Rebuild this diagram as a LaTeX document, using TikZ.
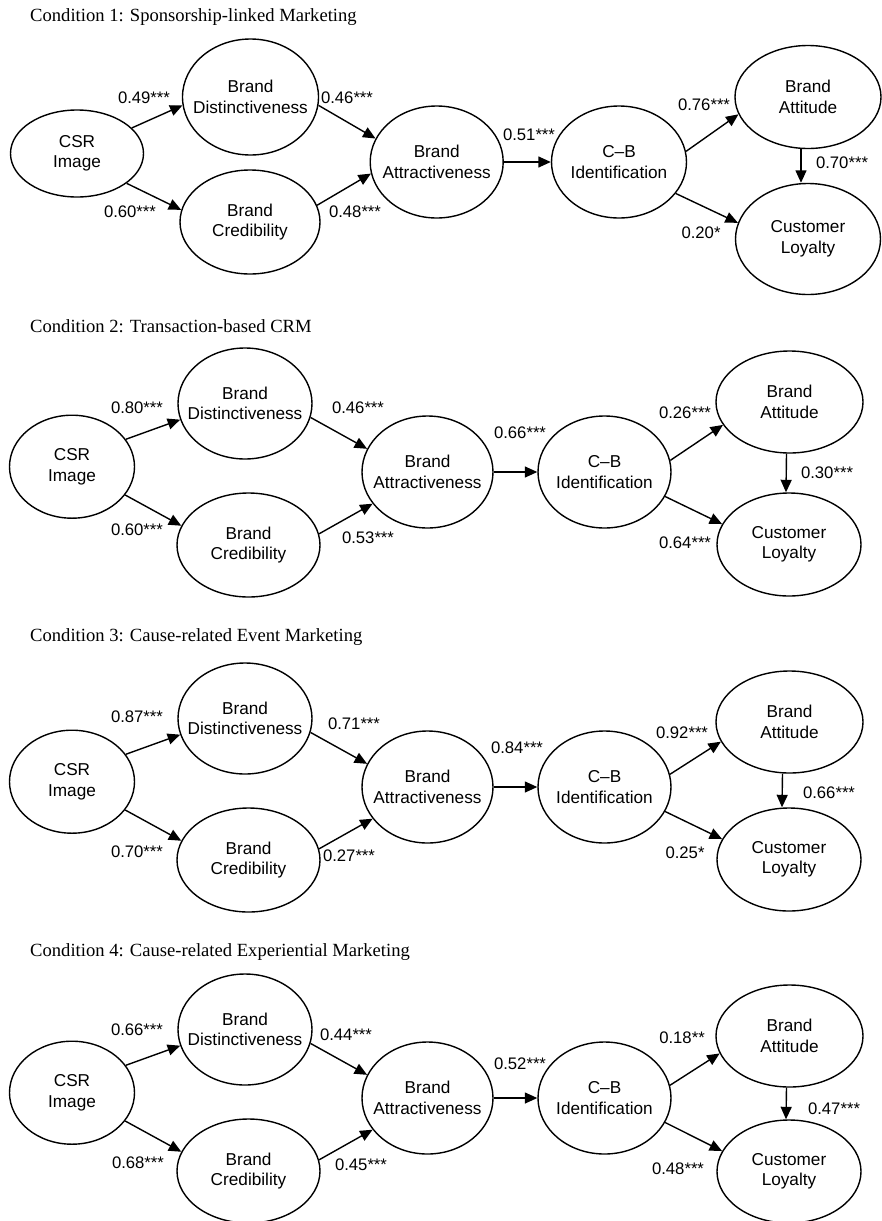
\documentclass[tikz,border=0pt]{standalone}
\usepackage{fontspec}
\setmainfont{Liberation Serif}
\newfontfamily\sansfam{Liberation Sans}
\usetikzlibrary{arrows.meta,shapes.geometric}
\tikzset{
  ell/.style 2 args={draw, ellipse, line width=1.4pt, inner xsep=-70pt, inner ysep=-35pt,
    minimum width=#1pt, minimum height=#2pt, align=center,
    font=\sansfam\fontsize{17.2}{20.5}\selectfont},
  arr/.style={-{Triangle[length=12.5pt,width=11pt]}, line width=1.4pt},
  coef/.style={font=\sansfam\fontsize{16.7}{18}\selectfont, inner sep=0pt},
  ttl/.style={font=\fontsize{18.6}{20}\selectfont, anchor=base west, inner sep=0pt},
}
\begin{document}
\begin{tikzpicture}[x=1pt,y=-1pt]
\useasboundingbox (0,0) rectangle (882,1221);

% ---------------- Panel 1 ----------------
\node[ttl] (t1) at (30,21.7) {Condition 1: Sponsorship-linked Marketing};
\node[ell={133}{87}]  (csr1)  at (77,153.5) {CSR\\Image};
\node[ell={136}{116}] (dist1) at (250.5,97) {Brand\\Distinctiveness};
\node[ell={140}{104}] (cred1) at (250,222) {Brand\\Credibility};
\node[ell={133}{112}] (attr1) at (436.7,162) {Brand\\Attractiveness};
\node[ell={135}{112}] (cb1)   at (619,162) {C–B\\Identification};
\node[ell={146}{103}] (att1)  at (808,97) {Brand\\Attitude};
\node[ell={145}{111}] (loy1)  at (808,239) {Customer\\Loyalty};
\draw[arr] (csr1.25.5) -- (dist1.187.6);
\draw[arr] (csr1.-31.3) -- (cred1.170.8);
\draw[arr] (dist1.-7.9) -- (attr1.159.5);
\draw[arr] (cred1.14.6) -- (attr1.190.4);
\draw[arr] (attr1) -- (cb1);
\draw[arr] (cb1.9.8) -- (att1.194.8);
\draw[arr] (cb1.-29.1) -- (loy1.167.4);
\draw[arr] ([xshift=-7pt]att1.south) -- ([xshift=-7pt]loy1.north);
\node[coef] (l11) at (144,98) {0.49***};
\node[coef] (l12) at (130,212) {0.60***};
\node[coef] (l13) at (347,98) {0.46***};
\node[coef] (l14) at (355,212) {0.48***};
\node[coef] (l15) at (529,135) {0.51***};
\node[coef] (l16) at (704,105) {0.76***};
\node[coef] (l17) at (701,233) {0.20*};
\node[coef] (l18) at (842,163) {0.70***};

% ---------------- Panel 2 ----------------
\node[ttl] (t2) at (30,332.3) {Condition 2: Transaction-based CRM};
\node[ell={125}{103}] (csr2)  at (72,466.7) {CSR\\Image};
\node[ell={134}{111}] (dist2) at (245,403.5) {Brand\\Distinctiveness};
\node[ell={143}{104}] (cred2) at (248.5,545) {Brand\\Credibility};
\node[ell={131}{112}] (attr2) at (427.5,472) {Brand\\Attractiveness};
\node[ell={133}{112}] (cb2)   at (604.5,472) {C–B\\Identification};
\node[ell={147}{102}] (att2)  at (789.5,402) {Brand\\Attitude};
\node[ell={144}{103}] (loy2)  at (789,544.5) {Customer\\Loyalty};
\draw[arr] (csr2.27.8) -- (dist2.194);
\draw[arr] (csr2.-28.7) -- (cred2.164);
\draw[arr] (dist2.-12) -- (attr2.159);
\draw[arr] (cred2.9.5) -- (attr2.210);
\draw[arr] (attr2) -- (cb2);
\draw[arr] (cb2.10) -- (att2.199);
\draw[arr] (cb2.-22) -- (loy2.163);
\draw[arr] ([xshift=-3pt]att2.south) -- ([xshift=-3pt]loy2.north);
\node[coef] (l21) at (137,408) {0.80***};
\node[coef] (l22) at (137,530) {0.60***};
\node[coef] (l23) at (358,408) {0.46***};
\node[coef] (l24) at (368,538) {0.53***};
\node[coef] (l25) at (520,433) {0.66***};
\node[coef] (l26) at (685,413) {0.26***};
\node[coef] (l27) at (685,543) {0.64***};
\node[coef] (l28) at (827,473) {0.30***};

% ---------------- Panel 3 ----------------
\node[ttl] (t3) at (30,641) {Condition 3: Cause-related Event Marketing};
\node[ell={125}{103}] (csr3)  at (72,781.7) {CSR\\Image};
\node[ell={134}{111}] (dist3) at (245,718.5) {Brand\\Distinctiveness};
\node[ell={143}{104}] (cred3) at (248.5,860) {Brand\\Credibility};
\node[ell={131}{112}] (attr3) at (427.5,787) {Brand\\Attractiveness};
\node[ell={133}{112}] (cb3)   at (604.5,787) {C–B\\Identification};
\node[ell={147}{102}] (att3)  at (789.5,722) {Brand\\Attitude};
\node[ell={144}{103}] (loy3)  at (789,859.5) {Customer\\Loyalty};
\draw[arr] (csr3.27.8) -- (dist3.194);
\draw[arr] (csr3.-28.7) -- (cred3.164);
\draw[arr] (dist3.-12) -- (attr3.159);
\draw[arr] (cred3.9.5) -- (attr3.210);
\draw[arr] (attr3) -- (cb3);
\draw[arr] (cb3.11.7) -- (att3.196.4);
\draw[arr] (cb3.-22) -- (loy3.163);
\draw[arr] ([xshift=-7pt]att3.south) -- ([xshift=-7pt]loy3.north);
\node[coef] (l31) at (137,717) {0.87***};
\node[coef] (l32) at (137,852) {0.70***};
\node[coef] (l33) at (354,724) {0.71***};
\node[coef] (l34) at (349,856) {0.27***};
\node[coef] (l35) at (517,748) {0.84***};
\node[coef] (l36) at (682,733) {0.92***};
\node[coef] (l37) at (685,853) {0.25*};
\node[coef] (l38) at (829,793) {0.66***};

% ---------------- Panel 4 ----------------
\node[ttl] (t4) at (30,956) {Condition 4: Cause-related Experiential Marketing};
\node[ell={125}{103}] (csr4)  at (72,1092.7) {CSR\\Image};
\node[ell={134}{111}] (dist4) at (245,1029.5) {Brand\\Distinctiveness};
\node[ell={143}{104}] (cred4) at (248.5,1171) {Brand\\Credibility};
\node[ell={131}{112}] (attr4) at (427.5,1098) {Brand\\Attractiveness};
\node[ell={133}{112}] (cb4)   at (604.5,1098) {C–B\\Identification};
\node[ell={147}{102}] (att4)  at (789.5,1036) {Brand\\Attitude};
\node[ell={144}{103}] (loy4)  at (789,1171.5) {Customer\\Loyalty};
\draw[arr] (csr4.27.8) -- (dist4.194);
\draw[arr] (csr4.-28.7) -- (cred4.164);
\draw[arr] (dist4.-12) -- (attr4.159);
\draw[arr] (cred4.9.5) -- (attr4.210);
\draw[arr] (attr4) -- (cb4);
\draw[arr] (cb4.11) -- (att4.194.3);
\draw[arr] (cb4.-22) -- (loy4.163);
\draw[arr] ([xshift=-3pt]att4.south) -- ([xshift=-3pt]loy4.north);
\node[coef] (l41) at (137,1030) {0.66***};
\node[coef] (l42) at (138,1163) {0.68***};
\node[coef] (l43) at (346,1035) {0.44***};
\node[coef] (l44) at (361,1165) {0.45***};
\node[coef] (l45) at (520,1064) {0.52***};
\node[coef] (l46) at (682,1038) {0.18**};
\node[coef] (l47) at (678,1169) {0.48***};
\node[coef] (l48) at (834,1109) {0.47***};
\end{tikzpicture}
\end{document}
